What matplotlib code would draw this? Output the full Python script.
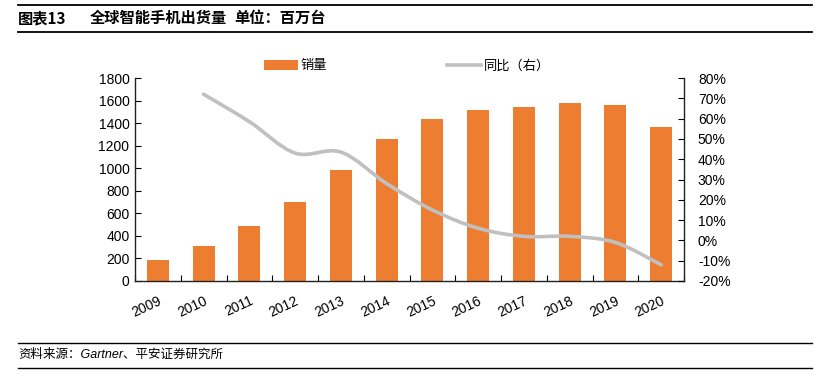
import numpy as np
import matplotlib
matplotlib.use("Agg")
import matplotlib.pyplot as plt
from matplotlib.path import Path
from matplotlib.patches import PathPatch, Patch
from matplotlib.lines import Line2D

plt.rcParams['font.family'] = ['Liberation Sans', 'Noto Sans CJK SC', 'DejaVu Sans']

years = ["2009", "2010", "2011", "2012", "2013", "2014",
         "2015", "2016", "2017", "2018", "2019", "2020"]
shipments = [185, 312, 486, 699, 985, 1258, 1437, 1515, 1545, 1580, 1560, 1365]
# YoY growth (%) from 2010 on
yoy_years = years[1:]
yoy = [72, 58.5, 43, 43.5, 28, 15, 6, 2, 2, -1, -12]

orange = "#ED7D31"
gray = "#C0C0C0"
cjk = ['Noto Sans CJK SC', 'DejaVu Sans']

fig = plt.figure(figsize=(8.3, 3.76), dpi=100)
ax = fig.add_axes([135 / 830, 1 - 281 / 376, (684 - 135) / 830, (281 - 78) / 376])
ax2 = ax.twinx()

x = np.arange(len(years))
ax.bar(x, shipments, width=0.48, color=orange, zorder=2)
ax.set_xlim(-0.5, len(years) - 0.5)
ax.set_ylim(0, 1800)
ax.set_yticks(np.arange(0, 1801, 200))
ax.set_xticks(x)
ax.set_xticklabels(years, rotation=25, ha="right", va="top", rotation_mode="anchor")
ax.set_xticks(np.arange(-0.5, len(years) - 0.4, 1), minor=True)
ax.tick_params(axis="x", which="major", length=0, pad=9, labelsize=10)
ax.tick_params(axis="x", which="minor", direction="in", length=4, width=0.8)
ax.tick_params(axis="y", direction="in", length=4, width=0.8, pad=4, labelsize=10)

# smoothed YoY line drawn as cubic bezier segments through the data points
xi = np.array([years.index(y) for y in yoy_years], dtype=float)
yi = np.array(yoy, dtype=float)
pts = np.column_stack([xi, yi])
verts = [tuple(pts[0])]
codes = [Path.MOVETO]
n = len(pts)
for i in range(n - 1):
    p0 = pts[max(i - 1, 0)]
    p1 = pts[i]
    p2 = pts[i + 1]
    p3 = pts[min(i + 2, n - 1)]
    c1 = p1 + (p2 - p0) / 6
    c2 = p2 - (p3 - p1) / 6
    verts += [tuple(c1), tuple(c2), tuple(p2)]
    codes += [Path.CURVE4] * 3
ax2.add_patch(PathPatch(Path(verts, codes), facecolor="none", edgecolor=gray,
                        lw=2.6, capstyle="round", zorder=3))
ax2.set_ylim(-20, 80)
ax2.set_yticks(np.arange(-20, 81, 10))
ax2.set_yticklabels([f"{v}%" for v in range(-20, 81, 10)])
ax2.tick_params(axis="y", direction="in", length=4, width=0.8, pad=10, labelsize=10)

for a in (ax, ax2):
    a.spines["top"].set_visible(False)
    for s in ("left", "right", "bottom"):
        a.spines[s].set_linewidth(1.0)
        a.spines[s].set_color("#222222")
ax.spines["right"].set_visible(False)
ax2.spines["left"].set_visible(False)
ax2.spines["bottom"].set_visible(False)

handles = [Patch(facecolor=orange, edgecolor="none"),
           Line2D([0], [0], color=gray, lw=2.6)]
leg = fig.legend(handles, ["销量", "同比（右）"], loc="center",
                 bbox_to_anchor=(407 / 830, 1 - 66 / 376), ncol=2, frameon=False,
                 handlelength=2.6, handleheight=0.7, handletextpad=0.2,
                 columnspacing=9.1, prop={"family": cjk, "size": 9.5})

# header and footer
fig.add_artist(Line2D([18 / 830, 812 / 830], [1 - 5 / 376] * 2, color="black", lw=1.3))
fig.add_artist(Line2D([18 / 830, 812 / 830], [1 - 32 / 376] * 2, color="black", lw=1.3))
fig.text(18 / 830, 1 - 18 / 376, "图表13", fontsize=11, fontweight="bold",
         family=cjk, va="center")
fig.text(90 / 830, 1 - 18 / 376, "全球智能手机出货量", fontsize=11, fontweight="bold",
         family=cjk, va="center")
fig.text(234 / 830, 1 - 18 / 376, "单位：百万台", fontsize=11, fontweight="bold",
         family=cjk, va="center")

fig.add_artist(Line2D([18 / 830, 812 / 830], [1 - 343 / 376] * 2, color="black", lw=1.0))
fig.add_artist(Line2D([18 / 830, 812 / 830], [1 - 368 / 376] * 2, color="black", lw=1.0))
fig.text(18 / 830, 1 - 355 / 376, "资料来源：Gartner、平安证券研究所", fontsize=9,
         style="italic", family=['Liberation Sans', 'Noto Sans CJK SC', 'DejaVu Sans'],
         va="center")

fig.savefig("out.png", dpi=100)
